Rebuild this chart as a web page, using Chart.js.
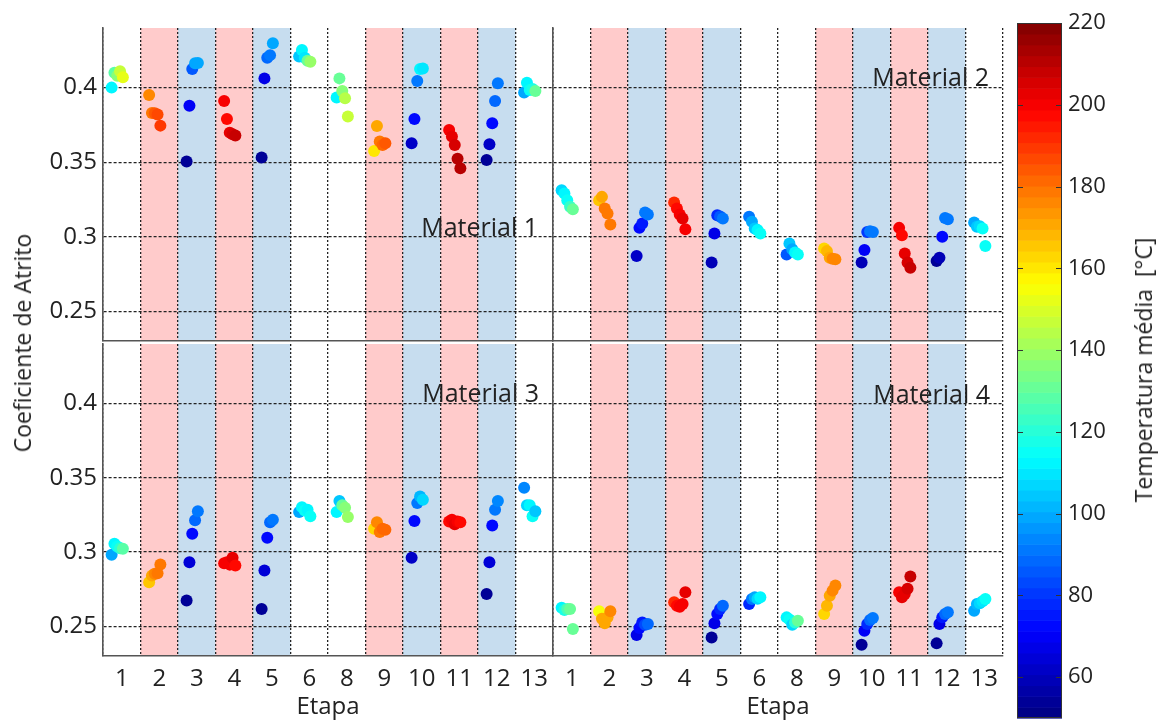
<!DOCTYPE html>
<html>
<head>
<meta charset="utf-8">
<script src="https://cdn.jsdelivr.net/npm/chart.js@4.4.1/dist/chart.umd.min.js"></script>
<style>
  html, body { margin: 0; padding: 0; background: #fff; }
  #wrap { position: relative; width: 1164px; height: 722px; overflow: hidden;
          font-family: 'Open Sans', sans-serif; color: #222; }
  #wrap canvas { position: absolute; left: 0; top: 0; }
  .lbl { position: absolute; white-space: nowrap; line-height: 30px; }
  .rot { transform: translate(-50%, -50%) rotate(-90deg); }
</style>
</head>
<body>
<div id="wrap">
  <canvas id="m1" width="1164" height="722"></canvas>
  <canvas id="m2" width="1164" height="722"></canvas>
  <canvas id="m3" width="1164" height="722"></canvas>
  <canvas id="m4" width="1164" height="722"></canvas>
  <canvas id="cbar" width="1164" height="722"></canvas>
  <div class="lbl rot" style="left:22px; top:343px; font-size:23px;">Coeficiente de Atrito</div>
  <div class="lbl rot" style="left:1143px; top:370px; font-size:23px;">Temperatura média&nbsp;&nbsp;[°C]</div>
  <div class="lbl" style="right:626px; top:211px; font-size:25px;">Material 1</div>
  <div class="lbl" style="right:175px; top:61px; font-size:25px;">Material 2</div>
  <div class="lbl" style="right:625px; top:377px; font-size:25px;">Material 3</div>
  <div class="lbl" style="right:174px; top:378px; font-size:25px;">Material 4</div>
</div>
<script>
// Test stages (x categories)
const stages = ['1', '2', '3', '4', '5', '6', '8', '9', '10', '11', '12', '13'];
// Stages shaded red (heating) and blue (cooling)
const shadeRed  = ['2', '4', '9', '11'];
const shadeBlue = ['3', '5', '10', '12'];

const yTicks = [0.25, 0.3, 0.35, 0.4];
const cbTicks = [60, 80, 100, 120, 140, 160, 180, 200, 220];

// Friction coefficient per stage (5 repetitions each) and mean temperature [°C]
const coefM1 = [
  [0.400, 0.410, 0.408, 0.411, 0.407],
  [0.395, 0.383, 0.3828, 0.382, 0.3745],
  [0.3504, 0.3879, 0.4125, 0.4163, 0.4165],
  [0.391, 0.379, 0.3698, 0.3687, 0.3678],
  [0.3531, 0.4062, 0.4201, 0.4218, 0.4297],
  [0.4208, 0.4252, 0.420, 0.4181, 0.4174],
  [0.3933, 0.4062, 0.3977, 0.3928, 0.3806],
  [0.3575, 0.3743, 0.3638, 0.3615, 0.3627],
  [0.3627, 0.379, 0.4044, 0.4125, 0.4129],
  [0.3716, 0.3672, 0.3615, 0.3522, 0.3459],
  [0.3515, 0.362, 0.3761, 0.391, 0.4029],
  [0.3968, 0.4033, 0.3984, 0.399, 0.3977]
];
const tempM1 = [
  [112, 128, 135, 146, 152],
  [175, 180, 185, 188, 190],
  [55, 70, 85, 98, 100],
  [200, 198, 202, 205, 207],
  [55, 68, 88, 92, 100],
  [104, 112, 110, 132, 138],
  [112, 130, 135, 145, 148],
  [160, 172, 178, 182, 185],
  [62, 72, 92, 112, 110],
  [200, 203, 206, 210, 212],
  [55, 62, 72, 88, 92],
  [100, 112, 115, 118, 130]
];

const coefM2 = [
  [0.3312, 0.329, 0.3245, 0.32, 0.3184],
  [0.3245, 0.3267, 0.3189, 0.3155, 0.3082],
  [0.2871, 0.3059, 0.3088, 0.3162, 0.3149],
  [0.3229, 0.3189, 0.3149, 0.3122, 0.305],
  [0.2827, 0.3021, 0.3144, 0.3135, 0.3122],
  [0.3133, 0.31, 0.3055, 0.3044, 0.3021],
  [0.2881, 0.2954, 0.2916, 0.2894, 0.2881],
  [0.2921, 0.2903, 0.2858, 0.2852, 0.2849],
  [0.2827, 0.291, 0.3032, 0.3037, 0.3032],
  [0.3059, 0.301, 0.2887, 0.2827, 0.2791],
  [0.2836, 0.2858, 0.2999, 0.3126, 0.3117],
  [0.3095, 0.3066, 0.307, 0.3055, 0.2938]
];
const tempM2 = [
  [108, 112, 115, 122, 130],
  [165, 172, 178, 180, 178],
  [62, 72, 75, 90, 92],
  [192, 198, 200, 202, 200],
  [58, 68, 78, 85, 90],
  [92, 100, 105, 112, 114],
  [85, 105, 100, 112, 115],
  [162, 168, 172, 175, 175],
  [60, 70, 80, 90, 92],
  [200, 198, 203, 205, 208],
  [55, 60, 72, 90, 92],
  [100, 105, 108, 114, 115]
];

const coefM3 = [
  [0.2981, 0.3055, 0.3037, 0.3025, 0.3022],
  [0.2796, 0.2841, 0.2853, 0.2857, 0.2916],
  [0.2673, 0.2931, 0.3123, 0.3213, 0.3275],
  [0.2924, 0.2931, 0.2915, 0.2961, 0.2909],
  [0.2617, 0.2875, 0.3096, 0.3201, 0.3217],
  [0.3269, 0.3302, 0.328, 0.3285, 0.324],
  [0.3269, 0.3343, 0.3314, 0.3298, 0.3235],
  [0.3156, 0.3201, 0.3134, 0.3156, 0.315],
  [0.2961, 0.3208, 0.3329, 0.3374, 0.3352],
  [0.3206, 0.3217, 0.3186, 0.3206, 0.3201],
  [0.2718, 0.2931, 0.3179, 0.3285, 0.3343],
  [0.3433, 0.3314, 0.3314, 0.324, 0.3275]
];
const tempM3 = [
  [100, 112, 115, 120, 128],
  [165, 172, 175, 178, 178],
  [55, 65, 72, 88, 92],
  [200, 200, 200, 202, 198],
  [55, 65, 72, 88, 92],
  [100, 112, 114, 113, 115],
  [112, 105, 130, 135, 140],
  [162, 175, 180, 182, 182],
  [62, 72, 92, 102, 106],
  [198, 200, 202, 200, 198],
  [55, 65, 72, 90, 95],
  [95, 108, 112, 115, 105]
];

const coefM4 = [
  [0.2624, 0.261, 0.2617, 0.2617, 0.2482],
  [0.2601, 0.255, 0.252, 0.256, 0.2601],
  [0.2442, 0.2488, 0.2526, 0.251, 0.2515],
  [0.2661, 0.2639, 0.2632, 0.265, 0.2729],
  [0.2425, 0.252, 0.2583, 0.2617, 0.2639],
  [0.265, 0.2684, 0.2695, 0.2685, 0.2695],
  [0.256, 0.2545, 0.2511, 0.2525, 0.2538],
  [0.2583, 0.2639, 0.2706, 0.274, 0.2774],
  [0.2376, 0.247, 0.2515, 0.2542, 0.2556],
  [0.2729, 0.2695, 0.2718, 0.2752, 0.2835],
  [0.2385, 0.2515, 0.256, 0.2583, 0.2594],
  [0.2605, 0.265, 0.2655, 0.2668, 0.2684]
];
const tempM4 = [
  [112, 118, 125, 130, 132],
  [155, 170, 172, 170, 175],
  [68, 72, 75, 82, 88],
  [192, 198, 200, 200, 202],
  [55, 68, 72, 78, 88],
  [78, 92, 100, 106, 112],
  [112, 115, 108, 120, 130],
  [162, 168, 172, 175, 175],
  [55, 70, 78, 88, 92],
  [200, 203, 202, 205, 208],
  [55, 68, 75, 88, 92],
  [100, 102, 106, 110, 114]
];

// Colour scale limits
const T_MIN = 50, T_MAX = 220, N_LEVELS = 64;

// MATLAB-style jet colormap, 64 discrete levels
function jet(t) {
  let f = (t - T_MIN) / (T_MAX - T_MIN);
  f = Math.max(0, Math.min(1, f));
  const q = Math.min(N_LEVELS - 1, Math.floor(f * N_LEVELS));
  const s = (q + 0.5) / N_LEVELS;
  const c = v => Math.round(255 * Math.max(0, Math.min(1, v)));
  return `rgb(${c(1.5 - Math.abs(4 * s - 3))},${c(1.5 - Math.abs(4 * s - 2))},${c(1.5 - Math.abs(4 * s - 1))})`;
}

const W = 1164, H = 722;
const FONT = "'Open Sans', sans-serif";
Chart.defaults.font.family = FONT;
Chart.defaults.color = '#222';

const RED_FILL = 'rgb(255, 203, 203)';
const BLUE_FILL = 'rgb(199, 221, 239)';
const GRID = '#222';
const AXIS = '#555';

// Repetitions are spread slightly within each stage column
const jitter = k => -0.27 + 0.075 * k;

const shadePlugin = {
  id: 'stageShade',
  beforeDraw(chart) {
    const { ctx, chartArea: a, scales: { x } } = chart;
    ctx.save();
    stages.forEach((s, i) => {
      const fill = shadeRed.includes(s) ? RED_FILL : shadeBlue.includes(s) ? BLUE_FILL : null;
      if (!fill) return;
      const x0 = x.getPixelForValue(i + 0.5);
      const x1 = x.getPixelForValue(i + 1.5);
      ctx.fillStyle = fill;
      ctx.fillRect(x0, a.top, x1 - x0, a.bottom - a.top);
    });
    ctx.restore();
  }
};

function makePanel(id, coef, temp, box, showY, showX) {
  const yW = showY ? box.left : 0;
  const xH = showX ? H - box.bottom : 0;
  const points = [], colors = [];
  coef.forEach((row, i) => row.forEach((v, k) => {
    points.push({ x: i + 1 + jitter(k), y: v });
    colors.push(jet(temp[i][k]));
  }));
  const xTickVals = [];
  for (let v = 0.5; v <= stages.length + 0.5; v += 0.5) xTickVals.push(v);

  return new Chart(document.getElementById(id), {
    type: 'scatter',
    data: {
      datasets: [{
        data: points,
        pointBackgroundColor: colors,
        pointBorderColor: colors,
        pointBorderWidth: 0,
        pointRadius: 6,
        pointHoverRadius: 6
      }]
    },
    options: {
      responsive: false,
      animation: false,
      events: [],
      layout: { padding: { left: box.left - yW, top: box.top, right: W - box.right, bottom: H - box.bottom - xH } },
      plugins: { legend: { display: false }, tooltip: { enabled: false } },
      scales: {
        x: {
          type: 'linear', min: 0.5, max: stages.length + 0.5,
          afterBuildTicks: s => { s.ticks = xTickVals.map(v => ({ value: v })); },
          afterFit: s => { s.height = xH; s.paddingLeft = 0; s.paddingRight = 0; },
          grid: {
            drawTicks: false, lineWidth: 1.3,
            color: c => (c.tick && Number.isInteger(c.tick.value)) ? 'rgba(0,0,0,0)' : GRID
          },
          border: { display: true, color: AXIS, width: 1.6, dash: [2, 2] },
          ticks: {
            display: showX, autoSkip: false, maxRotation: 0, minRotation: 0, padding: 9,
            font: { size: 24 }, color: '#222',
            callback: v => Number.isInteger(v) ? stages[v - 1] : ''
          },
          title: { display: showX, text: 'Etapa', font: { size: 24 }, color: '#222', padding: { top: 0, bottom: 0 } }
        },
        y: {
          type: 'linear', min: 0.23, max: 0.44,
          afterBuildTicks: s => { s.ticks = yTicks.map(v => ({ value: v })); },
          afterFit: s => { s.width = yW; s.paddingTop = 0; s.paddingBottom = 0; },
          grid: { drawTicks: false, lineWidth: 1.2, color: GRID },
          border: { display: true, color: AXIS, width: 1.6, dash: [3, 2] },
          ticks: {
            display: showY, padding: 6, font: { size: 24 }, color: '#222',
            callback: v => String(+v.toFixed(2))
          }
        }
      }
    },
    plugins: [shadePlugin]
  });
}

makePanel('m1', coefM1, tempM1, { left: 103, top: 28, right: 553, bottom: 341 }, true, false);
makePanel('m2', coefM2, tempM2, { left: 553, top: 28, right: 1003, bottom: 341 }, false, false);
makePanel('m3', coefM3, tempM3, { left: 103, top: 344, right: 553, bottom: 656 }, true, true);
makePanel('m4', coefM4, tempM4, { left: 553, top: 344, right: 1003, bottom: 656 }, false, true);

// Colour bar drawn on its own value scale
const colorbarPlugin = {
  id: 'colorbar',
  beforeDraw(chart) {
    const { ctx, chartArea: a, scales: { y } } = chart;
    ctx.save();
    for (let q = 0; q < N_LEVELS; q++) {
      const v0 = T_MIN + (T_MAX - T_MIN) * q / N_LEVELS;
      const v1 = T_MIN + (T_MAX - T_MIN) * (q + 1) / N_LEVELS;
      const y0 = y.getPixelForValue(v0), y1 = y.getPixelForValue(v1);
      ctx.fillStyle = jet((v0 + v1) / 2);
      ctx.fillRect(a.left, y1, a.right - a.left, y0 - y1 + 0.6);
    }
    ctx.restore();
  },
  afterDraw(chart) {
    const { ctx, chartArea: a, scales: { y } } = chart;
    ctx.save();
    ctx.strokeStyle = '#333';
    ctx.lineWidth = 1;
    ctx.strokeRect(a.left + 0.5, a.top + 0.5, a.right - a.left - 1, a.bottom - a.top - 1);
    cbTicks.forEach(v => {
      const py = Math.round(y.getPixelForValue(v)) + 0.5;
      ctx.beginPath();
      ctx.moveTo(a.left, py); ctx.lineTo(a.left + 6, py);
      ctx.moveTo(a.right - 6, py); ctx.lineTo(a.right, py);
      ctx.stroke();
    });
    ctx.restore();
  }
};

new Chart(document.getElementById('cbar'), {
  type: 'scatter',
  data: { datasets: [] },
  options: {
    responsive: false,
    animation: false,
    events: [],
    layout: { padding: { left: 1017, top: 23, right: W - 1062 - 60, bottom: 4 } },
    plugins: { legend: { display: false }, tooltip: { enabled: false } },
    scales: {
      x: { display: false },
      y: {
        type: 'linear', position: 'right', min: T_MIN, max: T_MAX,
        afterBuildTicks: s => { s.ticks = cbTicks.map(v => ({ value: v })); },
        afterFit: s => { s.width = 60; s.paddingTop = 0; s.paddingBottom = 0; },
        grid: { display: false, drawTicks: false },
        border: { display: false },
        ticks: { padding: 6, font: { size: 22 }, color: '#222' }
      }
    }
  },
  plugins: [colorbarPlugin]
});
</script>
</body>
</html>
